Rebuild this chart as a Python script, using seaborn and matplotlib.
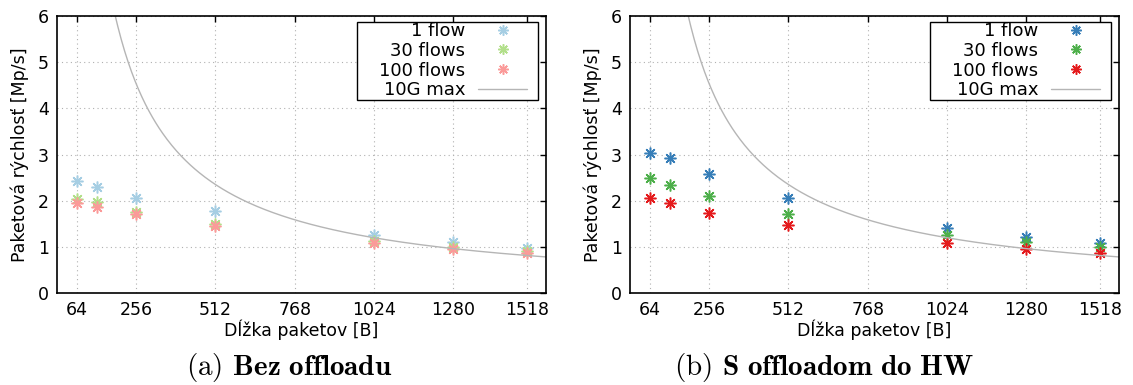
# plot.py
'''Packet rate vs. packet length, without and with HW offload'''

import matplotlib
matplotlib.use('Agg')
import matplotlib.pyplot as plt
from matplotlib.patches import Rectangle
import numpy as np
import pandas as pd
import seaborn as sns

# packet sizes [B] and measured packet rates [Mp/s]
sizes = [64, 128, 256, 512, 1024, 1280, 1518]
bez_1 = [2.42, 2.30, 2.06, 1.77, 1.26, 1.11, 0.98]
bez_30 = [2.03, 1.98, 1.76, 1.49, 1.12, 1.00, 0.92]
bez_100 = [1.96, 1.87, 1.71, 1.46, 1.09, 0.96, 0.87]
hw_1 = [3.04, 2.92, 2.57, 2.06, 1.41, 1.22, 1.08]
hw_30 = [2.50, 2.35, 2.10, 1.72, 1.26, 1.11, 0.99]
hw_100 = [2.06, 1.95, 1.74, 1.47, 1.09, 0.96, 0.87]

labels = ['1 flow', '30 flows', '100 flows']
light_colors = ['#a6cee3', '#b2df8a', '#fb9a99']
dark_colors = ['#377eb8', '#4daf4a', '#e41a1c']
xticks = [64, 256, 512, 768, 1024, 1280, 1518]

# theoretical 10G line rate (20 B preamble + IFG per frame)
line_rate = 10e9
overhead = 20
lengths = np.linspace(100, 1580, 400)
max_rate = line_rate / ((lengths + overhead) * 8) / 1e6

sns.set_style('white')
plt.rcParams['font.family'] = ['DejaVu Sans']
plt.rcParams['mathtext.fontset'] = 'cm'
plt.rcParams['text.color'] = 'black'
plt.rcParams['axes.labelcolor'] = 'black'
plt.rcParams['xtick.color'] = 'black'
plt.rcParams['ytick.color'] = 'black'

fig = plt.figure(figsize=(11.33, 3.85), dpi=100)
ax_left = fig.add_axes([57 / 1133, 1 - 293 / 385, 489 / 1133, 277 / 385])
ax_right = fig.add_axes([630 / 1133, 1 - 293 / 385, 489 / 1133, 277 / 385])


def draw(ax, series, colors):
    '''Draws the three flow series and the 10G max curve.'''
    curve = pd.DataFrame({'x': lengths, 'y': max_rate})
    for values, color, label in zip(series, colors, labels):
        df = pd.DataFrame({'x': sizes, 'y': values})
        sns.lineplot(data=df, x='x', y='y', ax=ax, color=color, label=label,
                     linestyle='', marker=(8, 2, 0), markersize=8.5,
                     markeredgewidth=1.1, markeredgecolor=color)
    sns.lineplot(data=curve, x='x', y='y', ax=ax, color='#b5b5b5',
                 linewidth=1.0, label='10G max')

    ax.set_xlim(0, 1580)
    ax.set_ylim(0, 6)
    ax.set_xticks(xticks)
    ax.set_yticks(range(7))
    ax.tick_params(direction='in', length=4, width=1, labelsize=12.5,
                   top=True, right=True, pad=6, color='black',
                   labelcolor='black')
    ax.grid(True, linestyle=(0, (1, 3)), color='#b0b0b0', linewidth=0.8)
    for spine in ax.spines.values():
        spine.set_color('black')
        spine.set_linewidth(1.2)
    ax.set_xlabel('Dĺžka paketov [B]', fontsize=12.5, labelpad=0)
    ax.set_ylabel('Paketová rýchlosť [Mp/s]', fontsize=12.5, labelpad=6)

    # gnuplot-like key: right-aligned labels, samples on the right
    legend = ax.legend(loc='upper right', markerfirst=False, numpoints=1,
                       frameon=False, fontsize=13, handlelength=2.7,
                       labelspacing=0.1, borderpad=0, borderaxespad=0,
                       handletextpad=0.72,
                       bbox_to_anchor=((527 - 57) / 489, (293 - 22) / 277))
    for handle in legend.legend_handles[:3]:
        handle.set_markersize(7.5)
    ax.add_patch(Rectangle(((357 - 57) / 489, (293 - 100) / 277),
                           181 / 489, 78 / 277, transform=ax.transAxes,
                           facecolor='white', edgecolor='black',
                           linewidth=1.0, zorder=4.9))


draw(ax_left, [bez_1, bez_30, bez_100], light_colors)
draw(ax_right, [hw_1, hw_30, hw_100], dark_colors)

fig.text(289 / 1133, 1 - 368 / 385, r'(a) $\mathbf{Bez\ offloadu}$',
         ha='center', va='center', fontsize=21, family='cmr10')
fig.text(824 / 1133, 1 - 368 / 385, r'(b) $\mathbf{S\ offloadom\ do\ HW}$',
         ha='center', va='center', fontsize=21, family='cmr10')

fig.savefig('out.png', dpi=100)
